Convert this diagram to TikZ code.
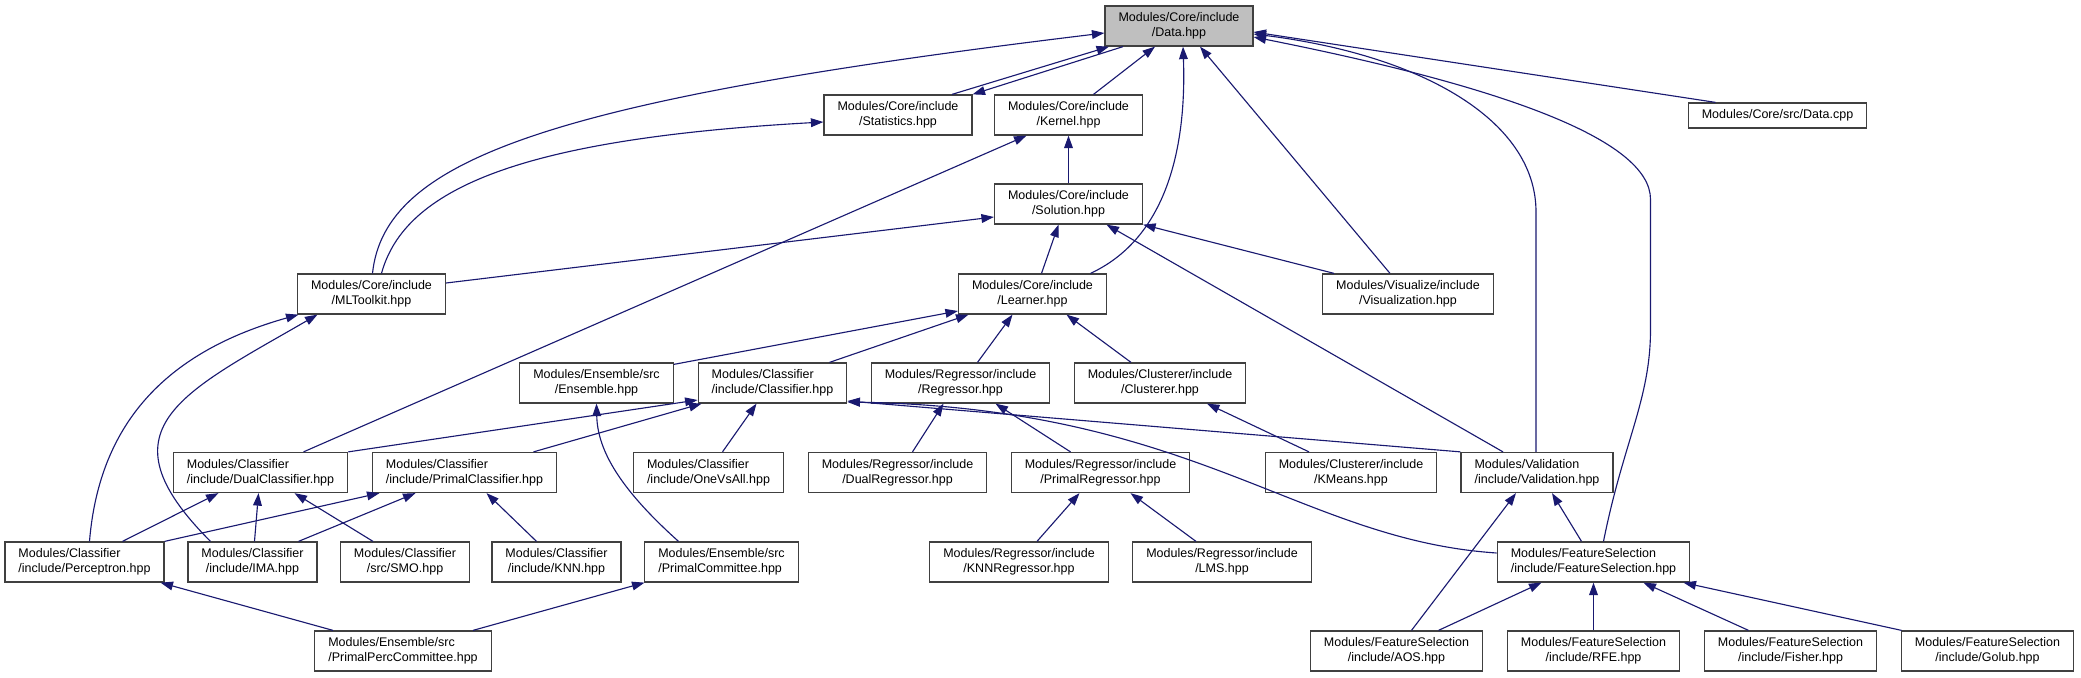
\documentclass[tikz,border=0pt]{standalone}
\usepackage{fontspec}
\setmainfont{Liberation Sans}
\usepackage{tikz}
\usetikzlibrary{
  arrows.meta,
  calc
}
\definecolor{edgeblue}{RGB}{25,25,112}
\definecolor{boxgray}{RGB}{191,191,191}
\definecolor{boxline}{RGB}{64,64,64}

\begin{document}
\begin{tikzpicture}[
  x=0.8pt, y=0.8pt,
  file/.style={draw=boxline, line width=1pt, fill=white, align=center,
               font=\fontsize{10pt}{12pt}\selectfont,
               minimum height=32pt, inner xsep=10.8pt, inner ysep=2pt},
  lfile/.style={file, align=left},
  curfile/.style={file, fill=boxgray},
  dep/.style={-{Triangle[length=10pt,width=7pt]}, edgeblue, line width=0.9pt}
]
\useasboundingbox (0,0) rectangle (2081,-677);

%% Core
\node[curfile] (data)     at (1179,-26)    {Modules/Core/include\\/Data.hpp};
\node[file]    (stats)    at (898,-115)    {Modules/Core/include\\/Statistics.hpp};
\node[file]    (kernel)   at (1068.5,-115) {Modules/Core/include\\/Kernel.hpp};
\node[file, minimum height=20pt] (datacpp) at (1777.5,-115.5) {Modules/Core/src/Data.cpp};
\node[file]    (solution) at (1068.5,-204) {Modules/Core/include\\/Solution.hpp};
\node[file]    (mltk)     at (371.5,-294)  {Modules/Core/include\\/MLToolkit.hpp};
\node[file]    (learner)  at (1032.5,-294) {Modules/Core/include\\/Learner.hpp};
\node[file]    (visual)   at (1408,-294)   {Modules/Visualize/include\\/Visualization.hpp};

%% Learners
\node[file]  (ensemble)   at (596.5,-383)  {Modules/Ensemble/src\\/Ensemble.hpp};
\node[lfile] (classifier) at (772.5,-383)  {Modules/Classifier\\/include/Classifier.hpp};
\node[file]  (regressor)  at (960.5,-383)  {Modules/Regressor/include\\/Regressor.hpp};
\node[file]  (clusterer)  at (1160,-383)   {Modules/Clusterer/include\\/Clusterer.hpp};

\node[lfile] (dualcls)    at (260.5,-472.5)  {Modules/Classifier\\/include/DualClassifier.hpp};
\node[lfile] (primalcls)  at (464.5,-472.5)  {Modules/Classifier\\/include/PrimalClassifier.hpp};
\node[lfile] (onevsall)   at (708.5,-472.5)  {Modules/Classifier\\/include/OneVsAll.hpp};
\node[file]  (dualreg)    at (897.5,-472.5)  {Modules/Regressor/include\\/DualRegressor.hpp};
\node[file]  (primalreg)  at (1100.5,-472.5) {Modules/Regressor/include\\/PrimalRegressor.hpp};
\node[file]  (kmeans)     at (1351,-472.5)   {Modules/Clusterer/include\\/KMeans.hpp};
\node[lfile] (valid)      at (1537,-472.5)   {Modules/Validation\\/include/Validation.hpp};

\node[lfile] (perceptron) at (84.5,-562)   {Modules/Classifier\\/include/Perceptron.hpp};
\node[file]  (ima)        at (252.5,-562)  {Modules/Classifier\\/include/IMA.hpp};
\node[file]  (smo)        at (405,-562)    {Modules/Classifier\\/src/SMO.hpp};
\node[file]  (knn)        at (556.5,-562)  {Modules/Classifier\\/include/KNN.hpp};
\node[lfile] (primalcomm) at (721.5,-562)  {Modules/Ensemble/src\\/PrimalCommittee.hpp};
\node[file]  (knnreg)     at (1019,-562)   {Modules/Regressor/include\\/KNNRegressor.hpp};
\node[file]  (lms)        at (1222,-562)   {Modules/Regressor/include\\/LMS.hpp};
\node[lfile] (featsel)    at (1593.5,-562) {Modules/FeatureSelection\\/include/FeatureSelection.hpp};

\node[lfile] (ppc)        at (403,-651)    {Modules/Ensemble/src\\/PrimalPercCommittee.hpp};
\node[file]  (aos)        at (1396.5,-651) {Modules/FeatureSelection\\/include/AOS.hpp};
\node[file]  (rfe)        at (1593.5,-651) {Modules/FeatureSelection\\/include/RFE.hpp};
\node[file]  (fisher)     at (1790.5,-651) {Modules/FeatureSelection\\/include/Fisher.hpp};
\node[file]  (golub)      at (1987.5,-651) {Modules/FeatureSelection\\/include/Golub.hpp};

%% Into Data.hpp
\draw[dep] ($(stats.north)+(54,0)$) -- ($(data.south)+(-70,0)$);
\draw[dep] ($(data.south)+(-56,0)$) -- (stats.north east);
\draw[dep] ($(kernel.north)+(25,0)$) -- ($(data.south)+(-24,0)$);
\draw[dep] ($(visual.north)+(-18,0)$) -- ($(data.south)+(21,0)$);
\draw[dep] ($(datacpp.north)+(-62,0)$) -- ($(data.east)+(0,-6)$);
\draw[dep] ($(mltk.north)+(1,0)$) .. controls +(12,114) and +(-555,-67) .. ($(data.west)+(0,-7)$);
\draw[dep] ($(learner.north)+(58,0)$) .. controls +(84,39) and +(3,-84) .. ($(data.south)+(4,0)$);
\draw[dep] ($(valid.north)+(-1,0)$) -- ++(0,240)
  .. controls +(0,92) and +(167,-21) .. ($(data.east)+(0,-8)$);
\draw[dep] ($(featsel.north)+(10,0)$) .. controls +(20,100) and +(0,-70) .. ++(47,212) -- ++(0,130)
  .. controls +(0,60) and +(247,-49) .. ($(data.east)+(0,-11)$);

%% Core internals
\draw[dep] ($(mltk.north)+(10,0)$) .. controls +(23,84) and +(-305,-17) .. ($(stats.west)+(0,-7)$);
\draw[dep] (solution) -- (kernel);
\draw[dep] ($(dualcls.north)+(43,0)$) -- ($(kernel.south)+(-42,0)$);
\draw[dep] ($(mltk.east)+(0,11)$) -- ($(solution.west)+(0,-13)$);
\draw[dep] ($(learner.north)+(9,0)$) -- ($(solution.south)+(-10,0)$);
\draw[dep] ($(visual.north)+(-74,0)$) -- (solution.south east);
\draw[dep] ($(valid.north)+(-34,0)$) -- ($(solution.south)+(38,0)$);
\draw[dep] ($(perceptron.north)+(5,0)$) .. controls +(10,122) and +(-128,-36) .. ($(mltk.south)+(-73,0)$);
\draw[dep] ($(ima.north)+(-42,0)$) .. controls +(-112,112) and +(-137,-79) .. ($(mltk.south)+(-54,0)$);

%% Into Learner.hpp
\draw[dep] ($(ensemble.north east)+(0,-2)$) -- ($(learner.west)+(0,-17)$);
\draw[dep] ($(classifier.north)+(57,0)$) -- ($(learner.south)+(-64,0)$);
\draw[dep] ($(regressor.north)+(17,0)$) -- ($(learner.south)+(-20,0)$);
\draw[dep] ($(clusterer.north)+(-29,0)$) -- ($(learner.south)+(34,0)$);

%% Classifiers
\draw[dep] (dualcls.north east) -- ($(classifier.west)+(0,-17)$);
\draw[dep] ($(primalcls.north)+(69,0)$) -- ($(classifier.south west)+(4,0)$);
\draw[dep] ($(onevsall.north)+(14,0)$) -- ($(classifier.south)+(-16,0)$);
\draw[dep] (valid.north west) -- ($(classifier.east)+(0,-18)$);
\draw[dep] ($(featsel.west)+(0,9)$) .. controls +(-197,13) and +(348,-6) .. ($(classifier.east)+(0,-19)$);
\draw[dep] ($(perceptron.north)+(38,0)$) -- ($(dualcls.south)+(-42,0)$);
\draw[dep] ($(ima.north)+(2,0)$) -- ($(dualcls.south)+(-2,0)$);
\draw[dep] ($(smo.north)+(-32,0)$) -- ($(dualcls.south)+(34,0)$);
\draw[dep] (perceptron.north east) -- ($(primalcls.south)+(-85,0)$);
\draw[dep] ($(ima.north)+(46,0)$) -- ($(primalcls.south)+(-49,0)$);
\draw[dep] ($(knn.north)+(-20,0)$) -- ($(primalcls.south)+(22,0)$);

%% Ensembles
\draw[dep] ($(primalcomm.north)+(-43,0)$) .. controls +(-58,52) and +(1,-47) .. (ensemble.south);
\draw[dep] ($(ppc.north)+(-70,0)$) -- ($(perceptron.south)+(76,0)$);
\draw[dep] ($(ppc.north)+(70,0)$) -- ($(primalcomm.south)+(-77,0)$);

%% Regressors and clusterers
\draw[dep] ($(dualreg.north)+(15,0)$) -- ($(regressor.south)+(-17,0)$);
\draw[dep] ($(primalreg.north)+(-30,0)$) -- ($(regressor.south)+(35,0)$);
\draw[dep] ($(kmeans.north)+(-42,0)$) -- ($(clusterer.south)+(47,0)$);
\draw[dep] ($(knnreg.north)+(18,0)$) -- ($(primalreg.south)+(-21,0)$);
\draw[dep] ($(lms.north)+(-26,0)$) -- ($(primalreg.south)+(30,0)$);

%% Validation and feature selection
\draw[dep] ($(featsel.north)+(-12,0)$) -- ($(valid.south)+(15,0)$);
\draw[dep] ($(aos.north)+(15,0)$) -- ($(valid.south)+(-21,0)$);
\draw[dep] ($(aos.north)+(42,0)$) -- ($(featsel.south)+(-52,0)$);
\draw[dep] (rfe) -- (featsel);
\draw[dep] ($(fisher.north)+(-42,0)$) -- ($(featsel.south)+(50,0)$);
\draw[dep] ($(golub.north)+(-86,0)$) -- ($(featsel.south)+(90,0)$);
\end{tikzpicture}
\end{document}
